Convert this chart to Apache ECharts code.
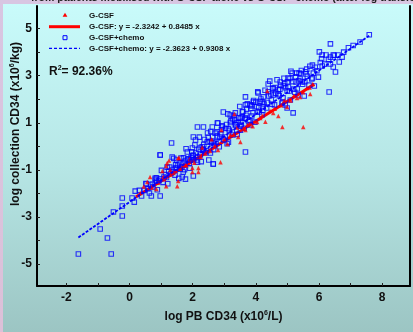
<!DOCTYPE html>
<html><head><meta charset="utf-8">
<script src="https://cdn.jsdelivr.net/npm/echarts@6/dist/echarts.min.js"></script>
<style>html,body{margin:0;padding:0;background:#d9c3dd;}#c{width:413px;height:332px;}</style>
</head><body><div id="c"></div>
<script>
// ---- data ----
const xTicks = [-2,-1,0,1,2,3,4,5,6,7,8];
const xTickLabels = [-2,0,2,4,6,8];
const yTicks = [-5,-4,-3,-2,-1,0,1,2,3,4,5];
const yTickLabels = [-5,-3,-1,1,3,5];
const seriesNames = ['G-CSF','G-CSF+chemo'];
const fitLabels = ['G-CSF: y = -2.3242 + 0.8485 x','G-CSF+chemo: y = -2.3623 + 0.9308 x'];
const gcsfFit = {a:-2.3242, b:0.8485};
const chemoFit = {a:-2.3623, b:0.9308};
const gcsfFitRange = [0.2, 5.85];
const chemoFitRange = [-1.62, 7.59];
const r2Text = '92.36%';

const gcsfPoints = [
[0.56,-1.51],[0.85,-1.81],[1.04,-1.05],[1.16,-0.83],[1.16,-1.69],[1.39,-1.13],[1.54,-1.47],[1.51,-1.69],
[1.57,-0.49],[1.76,-0.79],[1.99,-1.09],[2.18,-0.92],[2.88,-0.67],[0.34,-1.98],[4.36,2.35],[4.71,1.29],
[4.84,0.82],[5.50,0.82],[5.72,2.22],[3.32,1.37],[3.73,0.91],[3.67,0.69],[3.51,0.18],[3.44,0.40],
[3.19,0.48],[2.91,0.69],[1.99,-0.92],[2.18,-1.09],[1.54,-0.49],[1.70,-0.79],[1.19,-0.71],[1.29,-1.00],
[1.07,-1.30],[4.04,1.03],[4.14,1.20],[4.55,1.42],[4.99,1.67],[5.40,2.10],[5.62,2.48],
[0.70,-1.75],[0.90,-1.55],[1.10,-1.40],[1.30,-1.20],[1.45,-1.05],[1.60,-0.95],[1.80,-0.80],[1.90,-0.55],
[2.05,-0.70],[2.25,-0.45],[2.40,-0.30],[2.55,-0.20],[2.70,0.00],[2.80,-0.15],[3.00,0.30],[3.10,0.10],
[3.30,0.50],[3.60,0.75],[3.80,0.95],[3.90,0.85],[4.20,1.30],[4.30,1.05],[4.45,1.50],[4.60,1.60],
[4.80,1.75],[4.90,1.95],[5.10,1.95],[5.20,2.15],[5.30,2.05],[5.50,2.30],[5.70,2.50],[5.80,2.65],
[2.30,-0.05],[2.60,0.30],[3.40,0.80],[1.25,-0.60],[0.45,-1.70],[0.65,-1.30]
];

const chemoPoints = [
[-1.62,-4.57],[-0.58,-4.57],[-0.70,-3.89],[-0.93,-3.51],[-0.23,-2.96],[-0.23,-2.53],[-0.51,-2.79],[-0.23,-2.19],
[0.18,-1.90],[0.69,-2.11],[0.97,-2.11],[0.53,-1.60],[0.82,-1.43],[0.97,-0.37],[1.35,-0.45],[1.77,-1.39],
[2.02,-1.26],[2.65,-0.75],[3.67,-0.24],[7.59,4.74],
[6.36,4.35],[6.01,4.01],[6.10,3.88],[6.36,3.79],[6.45,3.88],[6.73,3.79],[6.64,3.58],[6.36,3.50],
[6.45,3.37],[6.52,3.16],[6.10,3.41],[5.98,2.94],[5.82,3.11],[5.79,2.90],[6.32,2.31],[5.85,2.56],
[5.15,3.11],[5.37,3.11],[5.59,3.07],[5.02,2.90],[5.27,2.73],[5.46,2.73],[5.68,2.60],[4.77,2.73],
[4.87,2.56],[4.99,2.35],[5.31,2.44],[5.34,2.18],[5.53,2.14],[5.09,1.97],[4.84,1.88],[4.99,1.63],
[5.18,1.42],[4.93,1.76],[4.71,2.39],[4.55,2.48],[4.55,2.18],[4.39,2.65],[4.07,2.27],[3.67,2.10],
[4.20,1.88],[3.92,1.88],[3.67,1.76],[3.82,1.76],[4.23,1.67],[4.04,1.46],[3.57,1.46],[3.35,1.42],
[2.97,1.46],[3.51,1.20],[3.26,1.16],[3.19,1.33],[3.35,0.91],[3.67,1.20],[3.82,0.91],[3.51,0.69],
[2.94,0.82],[2.78,0.99],[2.62,0.82],[2.34,0.82],[2.15,0.82],[2.02,0.40],[2.09,0.27],[2.47,0.57],
[2.78,0.44],[3.03,0.40],[3.13,0.18],[2.65,0.14],[2.56,-0.28],[2.34,-0.16],[2.24,-0.37],[2.65,-0.75],
[2.15,-0.67],[1.99,-0.07],[2.02,-0.37],[1.83,-0.24],[1.93,-0.58],[1.71,-0.49],[1.49,-0.58],[1.33,0.14],
[0.97,-0.37],[1.19,-0.88],[1.45,-0.92],[1.70,-1.09],[1.36,-1.09],[1.67,-1.30],[0.85,-1.34],
[0.08,-2.19],[0.15,-2.37],[0.31,-1.87],[0.38,-2.11],[0.47,-1.87],[0.52,-1.58],[0.63,-1.98],[0.67,-1.64],
[0.74,-1.72],[0.81,-1.36],[0.88,-1.84],[0.93,-1.45],[1.01,-1.02],[1.06,-1.53],[1.14,-1.20],[1.21,-1.59],
[1.27,-0.88],[1.31,-1.14],[1.40,-0.51],[1.44,-1.22],[1.52,-0.80],[1.56,-1.36],[1.63,-0.50],[1.68,-0.75],
[1.74,-0.99],[1.79,-0.10],[1.86,-0.53],[1.91,-0.93],[1.97,-0.23],[2.03,-0.57],[2.07,0.06],[2.13,-0.58],
[2.19,-0.12],[2.21,0.39],[2.27,-0.65],[2.33,-0.14],[2.37,0.29],[2.41,-0.27],[2.46,0.18],[2.51,-0.58],
[2.57,0.63],[2.60,0.16],[2.66,-0.14],[2.71,0.56],[2.74,0.19],[2.80,0.99],[2.84,-0.02],[2.89,0.53],
[2.93,0.87],[2.99,0.27],[3.04,0.77],[3.09,0.11],[3.11,1.38],[3.16,0.68],[3.21,1.08],[3.27,0.48],
[3.30,1.31],[3.36,0.92],[3.41,0.51],[3.46,1.21],[3.49,1.69],[3.54,0.93],[3.59,1.48],[3.63,0.77],
[3.69,1.32],[3.73,1.81],[3.77,1.05],[3.84,1.61],[3.87,1.29],[3.93,1.95],[3.97,1.03],[4.03,1.69],
[4.06,2.32],[4.11,1.46],[4.16,2.01],[4.19,1.34],[4.26,1.80],[4.29,2.38],[4.34,1.63],[4.41,2.14],
[4.44,2.77],[4.49,1.97],[4.53,2.45],[4.59,1.76],[4.63,2.25],[4.67,2.83],[4.74,2.15],[4.79,2.60],
[4.83,1.83],[4.89,2.89],[4.94,2.49],[5.00,2.74],[5.06,2.35],[5.11,3.19],[5.17,2.75],[5.23,2.30],
[5.29,3.11],[5.36,2.78],[5.42,3.08],[5.48,2.64],[5.57,3.17],[5.63,2.98],[5.71,3.40],[5.77,2.86],
[5.88,3.36],[5.93,3.21],[6.04,3.56],[6.18,3.49],[6.22,3.88],[6.48,3.87],[6.60,3.88],[6.78,4.00],
[6.93,4.19],[7.08,4.28],[7.30,4.43],
[1.48,-0.93],[1.60,-0.97],[1.83,-0.56],[2.00,-0.40],[2.16,-0.45],[2.30,-0.02],[2.44,-0.19],[2.55,0.21],
[2.69,0.04],[2.86,0.40],[2.97,0.30],[3.13,0.75],[3.25,0.61],[3.39,0.99],[3.52,0.86],[3.66,1.19],
[3.80,1.12],[3.91,1.43],[4.09,1.64],[4.22,1.52],[4.37,1.86],[4.51,1.79],[4.71,2.22],[4.86,2.06],
[5.03,2.52],[5.20,2.43],[5.40,2.86],[5.55,2.75],
[0.58,-1.80],[0.72,-1.60],[0.86,-1.48],[0.99,-1.38],[1.09,-1.30],[1.17,-1.32],[1.24,-1.05],[1.35,-0.98],
[1.46,-0.78],[1.58,-0.70],[1.66,-0.88],[1.76,-0.62],[1.89,-0.72],[1.95,-0.48],[2.10,-0.28],[2.24,-0.05],
[2.35,0.08],[2.49,0.38],[2.63,0.42],[2.77,0.62],[2.91,0.71],[3.07,0.93],[3.19,1.01],[3.33,1.12],
[3.44,1.02],[3.57,1.25],[3.71,1.58],[3.86,1.72],[4.00,1.88],[4.13,1.91],[4.24,2.10],[4.39,2.32],
[4.47,2.22],[4.61,2.50],[4.76,2.42],[4.91,2.66],[5.08,2.88],[5.26,2.95],[5.44,3.22],[5.61,3.28],
[5.79,3.45],[6.08,3.72],[6.30,3.70]
];

// ---- chart ----
const chart = echarts.init(document.getElementById('c'), null, {renderer:'canvas'});
const fitLine = (f, r) => r.map(x => [x, f.a + f.b * x]);
const font = 'Liberation Sans, Arial, sans-serif';
const legX = 89;
const legRows = [15.3, 26.7, 37.7, 48.3];
const supRich = {s:{fontSize:7, fontWeight:'bold', fontFamily:font, padding:[0,0,7,0], fill:'#111'}};

chart.setOption({
  animation: false,
  backgroundColor: {type:'linear', x:0, y:0, x2:0, y2:1, colorStops:[{offset:0,color:'#d8c6e2'},{offset:1,color:'#dcc0d8'}]},
  graphic: {elements: [
    {type:'rect', z:-10, shape:{x:3, y:4, width:410, height:328},
     style:{fill:{type:'linear', x:0, y:0, x2:0, y2:1, colorStops:[{offset:0,color:'#c9fbfb'},{offset:0.5,color:'#b6e6e5'},{offset:1,color:'#9cc5c3'}]}}},
    {type:'text', x:31, y:4, z:-5, style:{text:'from patients mobilised with G-CSF alone vs G-CSF+chemo (after log transformation)', font:'bold 10.5px ' + font, fill:'#222', verticalAlign:'bottom'}},
    {type:'polygon', z:20, shape:{points:[[65,12.8],[67.4,16.8],[62.6,16.8]]}, style:{fill:'#ff0000'}},
    {type:'line', z:20, shape:{x1:49, y1:legRows[1], x2:80, y2:legRows[1]}, style:{stroke:'#ff0000', lineWidth:3}},
    {type:'rect', z:20, shape:{x:63, y:legRows[2]-2, width:4, height:4}, style:{fill:'rgba(0,0,0,0)', stroke:'#0000ff', lineWidth:1}},
    {type:'line', z:20, shape:{x1:49, y1:legRows[3], x2:80, y2:legRows[3]}, style:{stroke:'#0000ff', lineWidth:1.3, lineDash:[3,2]}},
    {type:'text', z:20, x:legX, y:legRows[0], style:{text:seriesNames[0], font:'bold 8px '+font, fill:'#111', verticalAlign:'middle'}},
    {type:'text', z:20, x:legX, y:legRows[1], style:{text:fitLabels[0], font:'bold 8px '+font, fill:'#111', verticalAlign:'middle'}},
    {type:'text', z:20, x:legX, y:legRows[2], style:{text:seriesNames[1], font:'bold 8px '+font, fill:'#111', verticalAlign:'middle'}},
    {type:'text', z:20, x:legX, y:legRows[3], style:{text:fitLabels[1], font:'bold 8px '+font, fill:'#111', verticalAlign:'middle'}},
    {type:'text', z:20, x:49, y:72, style:{text:'R{s|2}= ' + r2Text, font:'bold 12px '+font, fill:'#111', verticalAlign:'middle', rich:supRich}},
    {type:'text', z:20, x:16, y:124, rotation:Math.PI/2,
     style:{text:'log collection CD34 (x10{s|6}/kg)', font:'bold 12px '+font, fill:'#111', align:'center', verticalAlign:'middle', rich:supRich}},
    {type:'text', z:20, x:223.5, y:317,
     style:{text:'log PB CD34 (x10{s|6}/L)', font:'bold 12px '+font, fill:'#111', align:'center', verticalAlign:'middle', rich:supRich}}
  ]},
  grid: {left:37, right:3, top:6, bottom:46, containLabel:false},
  xAxis: [{
    type:'value', min:-2.93, max:8.88,
    axisLine:{onZero:false, lineStyle:{color:'#000', width:2}},
    axisTick:{inside:true, length:3, customValues:xTicks, lineStyle:{color:'#222', width:1}},
    axisLabel:{customValues:xTickLabels, color:'#111', fontWeight:'bold', fontSize:12, fontFamily:font, margin:6},
    splitLine:{show:false}
  }],
  yAxis: [{
    type:'value', min:-5.93, max:5.96,
    axisLine:{onZero:false, lineStyle:{color:'#000', width:2}},
    axisTick:{inside:true, length:3, customValues:yTicks, lineStyle:{color:'#222', width:1}},
    axisLabel:{customValues:yTickLabels, color:'#111', fontWeight:'bold', fontSize:12, fontFamily:font, margin:5},
    splitLine:{show:false}
  },{
    type:'value', min:-5.93, max:5.96, position:'right',
    axisLine:{show:true, onZero:false, lineStyle:{color:'#000', width:2}},
    axisTick:{show:false}, axisLabel:{show:false}, splitLine:{show:false}
  }],
  series: [
    {name:fitLabels[0], type:'line', data:fitLine(gcsfFit, gcsfFitRange), symbol:'none',
     lineStyle:{color:'#ff0000', width:3}, z:1},
    {name:seriesNames[1], type:'scatter', data:chemoPoints, symbol:'rect', symbolSize:4.5,
     itemStyle:{color:'rgba(0,0,0,0)', borderColor:'#0000ff', borderWidth:1.1}, z:2},
    {name:seriesNames[0], type:'scatter', data:gcsfPoints, symbol:'triangle', symbolSize:4.5,
     itemStyle:{color:'#ff0000'}, z:3},
    {name:fitLabels[1], type:'line', data:fitLine(chemoFit, chemoFitRange), symbol:'none',
     lineStyle:{color:'#0000ff', width:1.8, type:[3,1.5]}, z:5}
  ]
});
</script></body></html>
